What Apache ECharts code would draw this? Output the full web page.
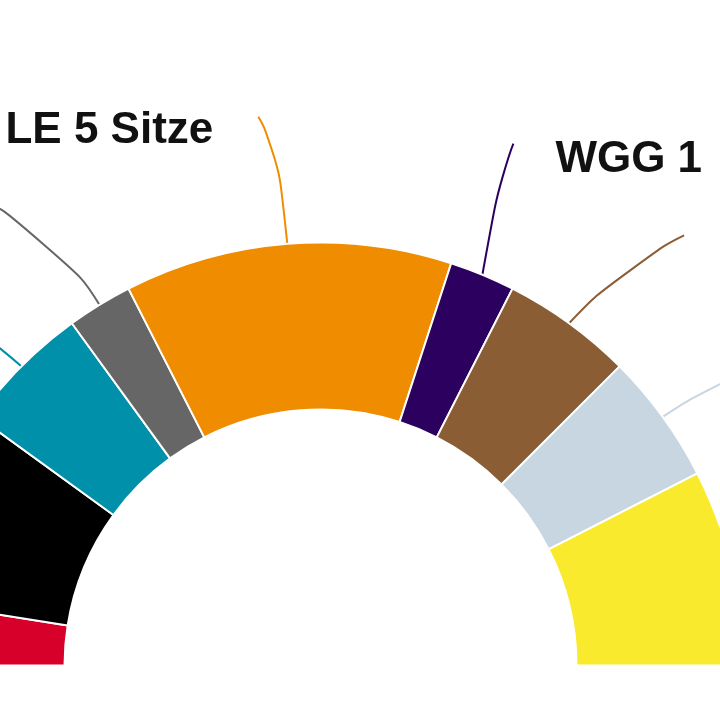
<!DOCTYPE html>
<html>
<head>
<meta charset="utf-8">
<script src="https://cdn.jsdelivr.net/npm/echarts@6/dist/echarts.min.js"></script>
<style>
html,body{margin:0;padding:0;background:#ffffff;}
#chart{width:720px;height:720px;}
</style>
</head>
<body>
<div id="chart"></div>
<script>
// ---- data (seat distribution) ----
const parties    = ['Rot', 'Schwarz', 'Petrol', 'Grau', 'Orange', 'WGG', 'Braun', 'Hellblau', 'Gelb'];
const seats      = [1, 3, 2, 1, 5, 1, 2, 2, 3];
const labelTexts = ['', '', '', '', 'LE 5 Sitze', 'WGG 1', '', '', ''];

// ---- styles ----
const colors = ['#d6002a', '#000000', '#0090aa', '#666666', '#f08c00', '#2b005e', '#8a5d35', '#c8d6e1', '#f9ea2d'];
// label-line shapes, relative to the anchor point that ECharts computes on the outer arc
const guides = {
  Petrol:   { pts: [[-22, -20], [-80, -62]], text: [-80, -62, 'right'] },
  Grau:     { pts: [[-45, -74], [-120, -106]], text: [-120, -106, 'right'] },
  Orange:   { pts: [[-10, -95], [-29, -127]], text: [-74, -113, 'right'] },
  WGG:      { pts: [[18, -99], [31, -131]], text: [73, -115, 'left'] },
  Braun:    { pts: [[57, -60], [115, -88]], text: [200, -88, 'left'] },
  Hellblau: { pts: [[60, -40], [120, -62]], text: [200, -62, 'left'] }
};

const chart = echarts.init(document.getElementById('chart'), null, { renderer: 'canvas' });

const data = parties.map((name, i) => {
  const hasGuide = !!guides[name];
  return {
    name: name,
    value: seats[i],
    itemStyle: { color: colors[i] },
    label: { show: hasGuide },
    labelLine: { show: hasGuide, lineStyle: { color: colors[i] } }
  };
});

chart.setOption({
  animation: false,
  backgroundColor: '#ffffff',
  series: [{
    type: 'pie',
    center: [320.5, 665.5],
    radius: [256, 423],
    startAngle: 180,
    endAngle: 0,
    clockwise: true,
    avoidLabelOverlap: false,
    silent: true,
    itemStyle: { borderColor: '#ffffff', borderWidth: 2 },
    label: {
      show: true,
      position: 'outside',
      formatter: p => labelTexts[p.dataIndex],
      fontSize: 44,
      lineHeight: 46,
      fontWeight: 'bold',
      fontFamily: 'Liberation Sans, Arial, sans-serif',
      color: '#111111'
    },
    labelLine: { show: true, smooth: 0.7, length: 20, length2: 20, lineStyle: { width: 2 } },
    labelLayout: function (params) {
      const g = guides[parties[params.dataIndex]];
      if (!g || !params.labelLinePoints) return {};
      const ax = params.labelLinePoints[0][0];
      const ay = params.labelLinePoints[0][1];
      return {
        x: ax + g.text[0],
        y: ay + g.text[1],
        align: g.text[2],
        verticalAlign: 'middle',
        labelLinePoints: [[ax, ay]].concat(g.pts.map(p => [ax + p[0], ay + p[1]]))
      };
    },
    data: data
  }]
});
</script>
</body>
</html>
